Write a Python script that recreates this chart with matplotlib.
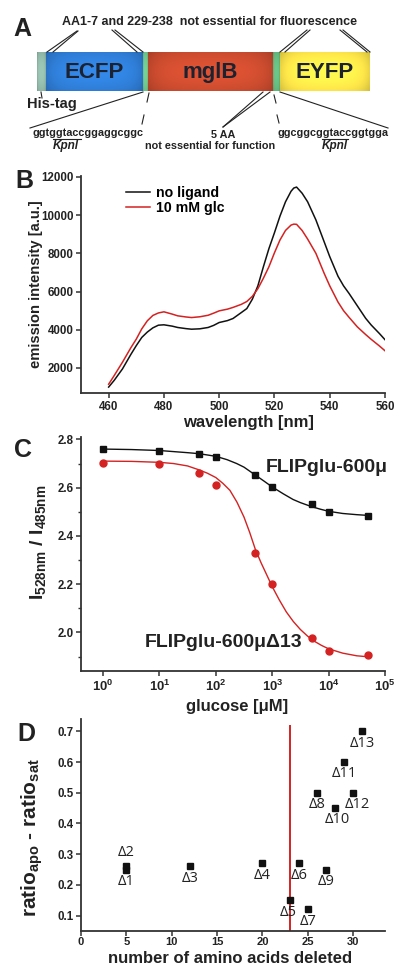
import numpy as np
import matplotlib
matplotlib.use("Agg")
import matplotlib.pyplot as plt
from matplotlib.ticker import FixedLocator, MultipleLocator, NullLocator

# ---- data -------------------------------------------------------------
# B: emission spectra
wavelength = [460, 462, 465, 468, 470, 472, 474, 476, 478, 480, 483, 485, 488, 490,
              493, 496, 498, 500, 503, 505, 508, 510, 512, 514, 516, 518, 520, 522,
              524, 526, 527, 528, 530, 532, 535, 538, 540, 543, 545, 547, 550, 553,
              555, 558, 560]
no_ligand = [1000, 1350, 1950, 2700, 3170, 3600, 3880, 4100, 4240, 4260, 4190, 4120,
             4060, 4030, 4050, 4120, 4230, 4380, 4480, 4590, 4900, 5110, 5600, 6300,
             7300, 8250, 9080, 9950, 10700, 11250, 11420, 11470, 11150, 10700, 9750,
             8600, 7830, 6800, 6300, 5900, 5250, 4600, 4250, 3800, 3480]
glc_10mM = [1150, 1600, 2300, 3050, 3510, 4050, 4470, 4750, 4880, 4940, 4820, 4730,
            4670, 4640, 4680, 4760, 4870, 4990, 5080, 5170, 5330, 5480, 5750, 6150,
            6700, 7300, 8030, 8700, 9200, 9480, 9530, 9520, 9200, 8750, 8000, 6950,
            6300, 5450, 5000, 4650, 4150, 3750, 3500, 3150, 2900]

glucose = [1, 10, 50, 100, 500, 1000, 5000, 10000, 50000]
ratio_600 = [2.759, 2.753, 2.739, 2.727, 2.654, 2.601, 2.534, 2.498, 2.481]
ratio_d13 = [2.702, 2.697, 2.661, 2.612, 2.331, 2.199, 1.977, 1.921, 1.908]
fit_log_600 = [0, 0.5, 1.0, 1.5, 1.7, 2.0, 2.2, 2.37, 2.5, 2.69, 2.85, 3.0, 3.2, 3.37,
               3.5, 3.69, 3.85, 4.0, 4.25, 4.5, 4.7]
fit_y_600 = [2.760, 2.758, 2.754, 2.745, 2.741, 2.730, 2.716, 2.700, 2.685, 2.654, 2.628,
             2.603, 2.574, 2.551, 2.538, 2.522, 2.511, 2.502, 2.493, 2.488, 2.485]
fit_log_d13 = [0, 0.5, 1.0, 1.25, 1.5, 1.7, 1.85, 2.0, 2.125, 2.25, 2.375, 2.5, 2.6, 2.7,
               2.8, 2.9, 3.0, 3.125, 3.25, 3.375, 3.5, 3.625, 3.75, 3.875, 4.0, 4.25,
               4.5, 4.7]
fit_y_d13 = [2.710, 2.709, 2.705, 2.700, 2.690, 2.674, 2.660, 2.642, 2.618, 2.589, 2.540,
             2.478, 2.415, 2.345, 2.290, 2.240, 2.190, 2.135, 2.085, 2.045, 2.012, 1.985,
             1.963, 1.946, 1.932, 1.914, 1.903, 1.899]

# D: deletion mutants
aa_deleted = [5, 5, 12, 20, 23, 24, 25, 26, 27, 28, 29, 30, 31]
delta_ratio = [0.25, 0.26, 0.26, 0.27, 0.15, 0.27, 0.12, 0.50, 0.25, 0.45, 0.60, 0.50, 0.70]
mutant_labels = ["Δ1", "Δ2", "Δ3", "Δ4", "Δ5", "Δ6", "Δ7", "Δ8", "Δ9", "Δ10", "Δ11", "Δ12", "Δ13"]
cutoff = 23

# ---- style ------------------------------------------------------------
plt.rcParams['font.family'] = ['Liberation Sans', 'DejaVu Sans']
plt.rcParams['font.weight'] = 'bold'
plt.rcParams['axes.labelweight'] = 'bold'
plt.rcParams['mathtext.fontset'] = 'custom'
plt.rcParams['mathtext.rm'] = 'Liberation Sans'
plt.rcParams['mathtext.bf'] = 'Liberation Sans:bold'
plt.rcParams['mathtext.it'] = 'Liberation Sans:italic'

TXT = '#222222'
RED = '#d42222'

fig = plt.figure(figsize=(3.99, 9.67), dpi=100)
W, H = 399.0, 967.0


def px_axes(x0, y0, x1, y1):
    return fig.add_axes([x0 / W, 1 - y1 / H, (x1 - x0) / W, (y1 - y0) / H])


def style(ax):
    for s in ['top', 'right']:
        ax.spines[s].set_visible(False)
    for s in ['left', 'bottom']:
        ax.spines[s].set_linewidth(1.3)
        ax.spines[s].set_color('#333333')
    ax.tick_params(direction='out', length=3.5, width=1.1, colors='#333333',
                   labelsize=8.3, pad=2, labelcolor=TXT)
    ax.tick_params(which='minor', direction='out', length=2.5, width=1.0, colors='#333333')
    for lab in ax.get_xticklabels() + ax.get_yticklabels():
        lab.set_fontweight('bold')


# ---- A: construct schematic --------------------------------------------
axA = px_axes(0, 0, W, 165)
axA.set_xlim(0, W)
axA.set_ylim(165, 0)
axA.axis('off')

bar_top, bar_bot = 52, 91
domains = [  # name, start, end, colour
    ("", 37, 46, (0.55, 0.70, 0.64)),
    ("ECFP", 46, 143, (0.18, 0.48, 0.82)),
    ("", 143, 148, (0.42, 0.74, 0.52)),
    ("mglB", 148, 273, (0.78, 0.29, 0.18)),
    ("", 273, 280, (0.38, 0.70, 0.48)),
    ("EYFP", 280, 370, (0.97, 0.88, 0.28)),
]
for name, x0, x1, col in domains:
    nx, ny = 60, 30
    gx = np.linspace(-1, 1, nx)[None, :]
    gy = np.linspace(-1, 1, ny)[:, None]
    shade = 1.12 - 0.12 * np.abs(gx) ** 6 - 0.10 * gy ** 2 - 0.05 * gx ** 2
    img = np.clip(np.array(col)[None, None, :] * shade[:, :, None], 0, 1)
    axA.imshow(img, extent=[x0, x1, bar_bot, bar_top], aspect='auto', zorder=1,
               interpolation='bilinear')
    if name:
        axA.text((x0 + x1) / 2, (bar_top + bar_bot) / 2 + 1, name, ha='center',
                 va='center', fontsize=16, color='#1c2230', zorder=3)

axA.text(22, 29, "A", fontsize=18, ha='center', va='center', color=TXT)
axA.text(210, 22, "AA1-7 and 229-238  not essential for fluorescence", fontsize=9,
         ha='center', va='center', color=TXT)
axA.text(27, 104, "His-tag", fontsize=10.5, ha='left', va='center', color=TXT)

lk = dict(color='#222222', lw=0.8, zorder=4)
for (x0, y0), (x1, y1) in [((77, 31), (47, 52)), ((78, 31), (53, 52)),
                           ((112, 30), (137, 52)), ((115, 30), (143, 52)),
                           ((307, 30), (280, 52)), ((310, 30), (285, 52)),
                           ((340, 30), (367, 52)), ((343, 30), (370, 52)),
                           ((41, 92), (42, 98)),
                           ((143, 92), (30, 128)),
                           ((149, 93), (147, 102)), ((144, 115), (142, 124)),
                           ((263, 92), (223, 127)), ((270, 92), (223, 127)),
                           ((274, 95), (276, 103)), ((277, 115), (279, 123)),
                           ((280, 92), (388, 128))]:
    axA.plot([x0, x1], [y0, y1], **lk)

axA.text(88, 133, "ggtggtaccggaggcggc", fontsize=7.8, ha='center', va='center', color=TXT)
axA.text(66, 146, "Kpnl", fontsize=8.5, style='italic', ha='center', va='center', color=TXT)
axA.plot([53, 81], [139, 139], **lk)
axA.text(223, 135, "5 AA", fontsize=7.8, ha='center', va='center', color=TXT)
axA.text(210, 146, "not essential for function", fontsize=7.8, ha='center', va='center',
         color=TXT)
axA.text(333, 133, "ggcggcggtaccggtgga", fontsize=7.8, ha='center', va='center', color=TXT)
axA.text(335, 146, "Kpnl", fontsize=8.5, style='italic', ha='center', va='center', color=TXT)
axA.plot([322, 348], [139, 139], **lk)

# ---- B: spectra --------------------------------------------------------
axB = px_axes(81, 176, 385, 393)
axB.plot(wavelength, no_ligand, color='#111111', lw=1.1, label='no ligand')
axB.plot(wavelength, glc_10mM, color=RED, lw=1.1, label='10 mM glc')
axB.set_xlim(450, 560)
axB.set_ylim(690, 12050)
axB.set_xticks([460, 480, 500, 520, 540, 560])
axB.set_yticks([2000, 4000, 6000, 8000, 10000, 12000])
style(axB)
axB.set_xlabel("wavelength [nm]", fontsize=12, color=TXT)
axB.xaxis.set_label_coords(0.55, -0.1)
axB.set_ylabel("emission intensity [a.u.]", fontsize=10.6, color=TXT)
axB.yaxis.set_label_coords(-0.125, 0.5)
axB.legend(loc='upper left', bbox_to_anchor=(0.115, 1.0), frameon=False, fontsize=10.2,
           handlelength=1.7, handletextpad=0.45, labelspacing=0.05, borderaxespad=0.3)
fig.text(24 / W, 1 - 181 / H, "B", fontsize=18, ha='center', va='center', color=TXT)

# ---- C: titration ------------------------------------------------------
axC = px_axes(81, 437, 385, 671)
axC.set_xscale('log')
axC.plot(10 ** np.array(fit_log_600), fit_y_600, color='#111111', lw=1.0)
axC.plot(10 ** np.array(fit_log_d13), fit_y_d13, color=RED, lw=1.0)
axC.plot(glucose, ratio_600, 's', color='#111111', ms=4.3)
axC.plot(glucose, ratio_d13, 'o', color=RED, ms=5)
axC.set_xlim(10 ** -0.39, 1e5)
axC.set_ylim(1.84, 2.81)
decades = [1, 10, 100, 1000, 10000, 100000]
axC.xaxis.set_major_locator(FixedLocator(decades))
axC.xaxis.set_minor_locator(NullLocator())
axC.set_xticklabels([r'$\mathbf{10^{%d}}$' % i for i in range(6)])
axC.yaxis.set_major_locator(FixedLocator([2.0, 2.2, 2.4, 2.6, 2.8]))
axC.yaxis.set_minor_locator(MultipleLocator(0.1))
axC.set_yticklabels(['2.0', '2.2', '2.4', '2.6', '2.8'])
style(axC)
axC.tick_params(axis='x', labelsize=9.4, pad=2)
axC.set_xlabel("glucose [μM]", fontsize=12, color=TXT)
axC.xaxis.set_label_coords(0.513, -0.118)
axC.set_ylabel(r"I$_{\mathbf{528nm}}$ / I$_{\mathbf{485nm}}$", fontsize=14, color=TXT)
axC.yaxis.set_label_coords(-0.11, 0.55)
axC.text(1.01, 0.868, "FLIPglu-600μ", transform=axC.transAxes, fontsize=14,
         ha='right', va='center', color=TXT)
axC.text(0.21, 0.12, "FLIPglu-600μΔ13", transform=axC.transAxes, fontsize=14,
         ha='left', va='center', color=TXT)
fig.text(23 / W, 1 - 450 / H, "C", fontsize=18, ha='center', va='center', color=TXT)

# ---- D: deletions ------------------------------------------------------
axD = px_axes(81, 719, 385, 931)
axD.plot(aa_deleted, delta_ratio, 's', color='#111111', ms=4.3, zorder=3)
axD.vlines(cutoff, 0.05, 0.72, color=RED, lw=1.4, zorder=2)
offsets = {"Δ2": (0, 10), "Δ12": (3, -8.5), "Δ10": (2, -8.5), "Δ5": (-1, -8.5)}
for xv, yv, lab in zip(aa_deleted, delta_ratio, mutant_labels):
    dx, dy = offsets.get(lab, (0, -8.5))
    axD.annotate(lab, (xv, yv), xytext=(dx, dy), textcoords='offset points',
                 ha='center', va='center', fontsize=10.5, fontweight='normal',
                 family=['Open Sans', 'DejaVu Sans'], color=TXT)
axD.set_xlim(0, 33.5)
axD.set_ylim(0.05, 0.74)
axD.set_xticks([0, 5, 10, 15, 20, 25, 30])
axD.set_yticks([0.1, 0.2, 0.3, 0.4, 0.5, 0.6, 0.7])
style(axD)
axD.tick_params(axis='x', pad=1, labelsize=8)
axD.set_xlabel("number of amino acids deleted", fontsize=12, color=TXT)
axD.xaxis.label.set_verticalalignment('baseline')
axD.xaxis.set_label_coords(0.49, -0.153)
axD.set_ylabel(r"ratio$_{\mathbf{apo}}$ - ratio$_{\mathbf{sat}}$", fontsize=15, color=TXT)
axD.yaxis.set_label_coords(-0.12, 0.44)
fig.text(26 / W, 1 - 734 / H, "D", fontsize=18, ha='center', va='center', color=TXT)

fig.savefig("out.png", dpi=100, facecolor='white')
